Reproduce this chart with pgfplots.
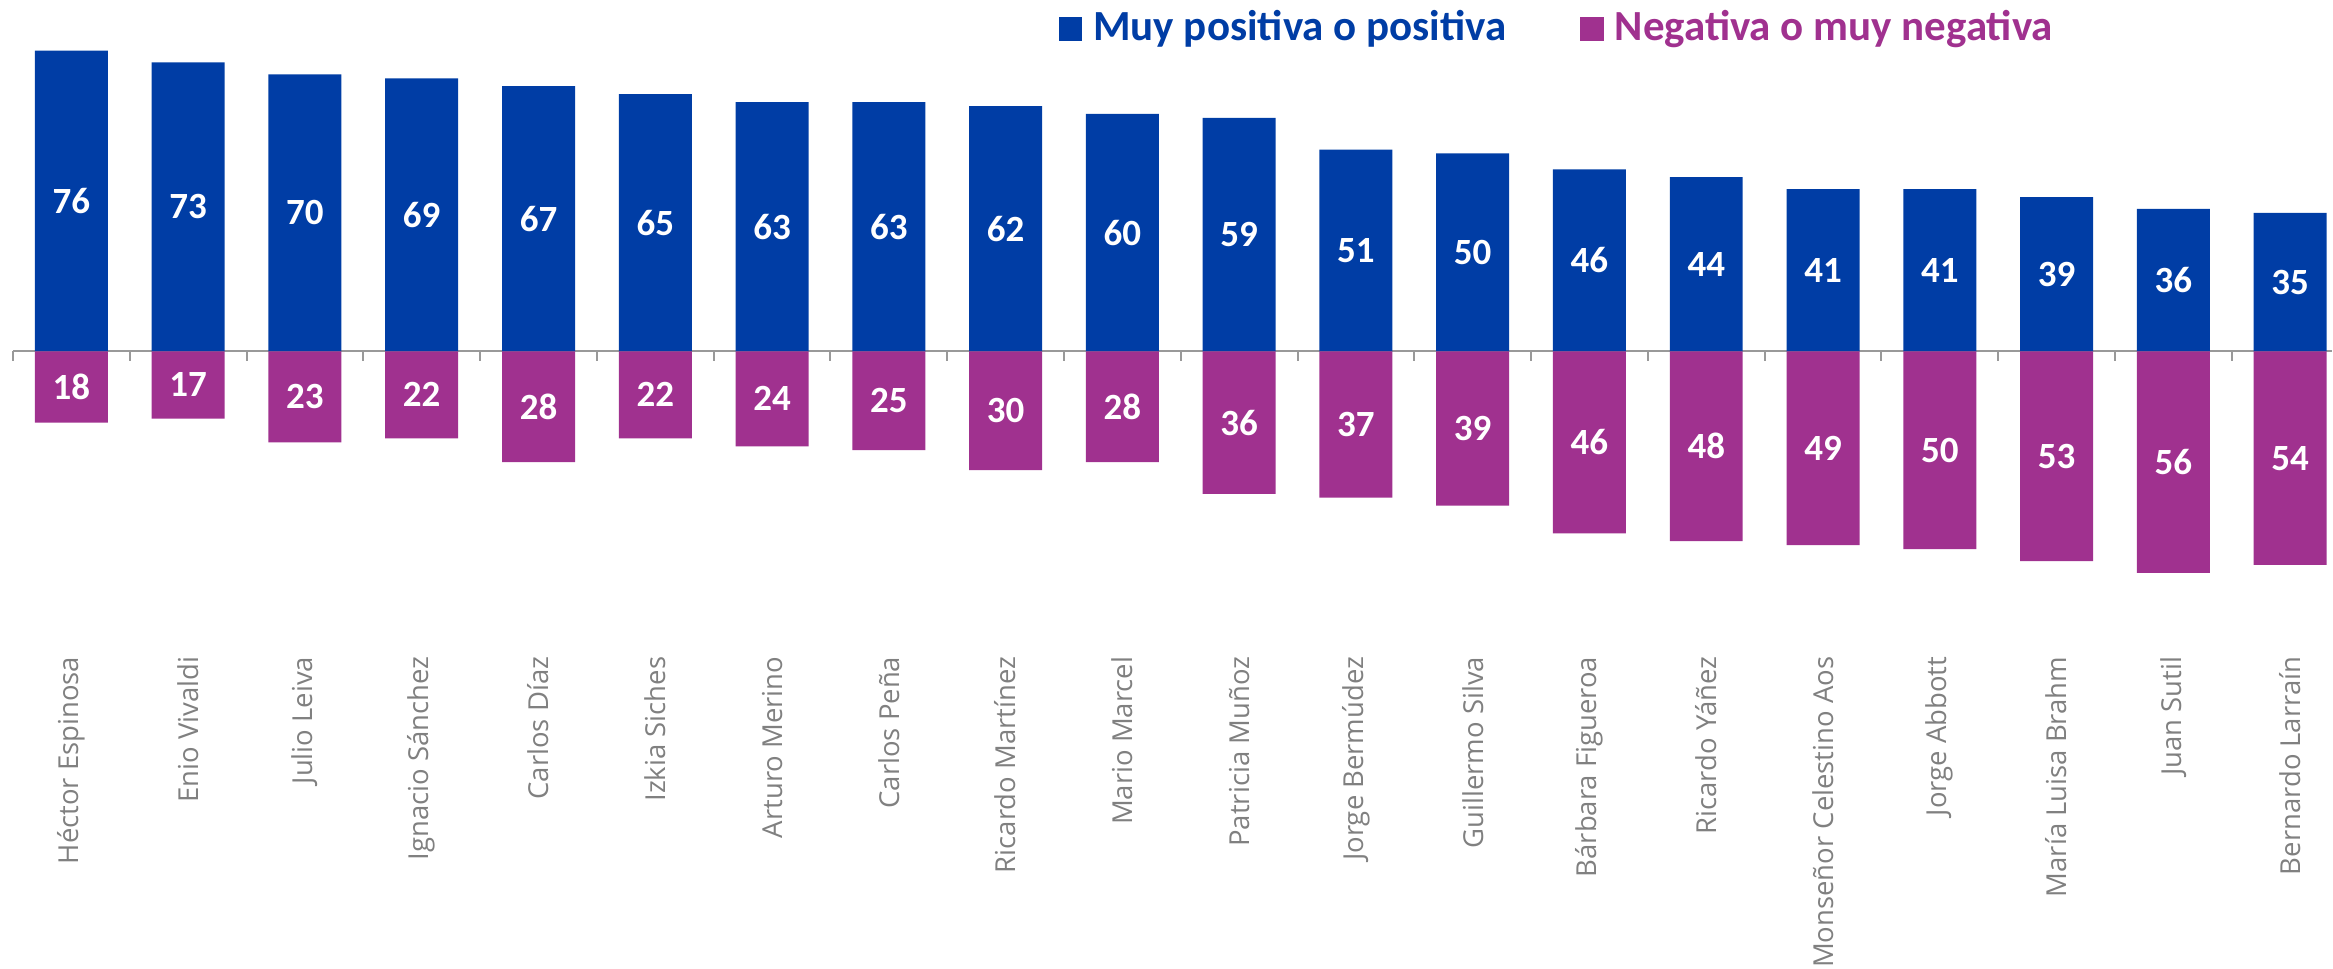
\documentclass[border=0pt]{standalone}
\usepackage{fontspec}
\setmainfont{Carlito}
\newfontfamily\opensans{Open Sans}
\usepackage{pgfplots}
\pgfplotsset{compat=1.18}
\usepackage{pgfplotstable}

\definecolor{posblue}{RGB}{0,61,165}
\definecolor{negpurple}{RGB}{160,49,143}
\definecolor{labgray}{RGB}{128,128,128}

% i = posicion, pos = muy positiva o positiva, neg = negativa o muy negativa
\pgfplotstableread{
i pos neg
0 76 18
1 73 17
2 70 23
3 69 22
4 67 28
5 65 22
6 63 24
7 63 25
8 62 30
9 60 28
10 59 36
11 51 37
12 50 39
13 46 46
14 44 48
15 41 49
16 41 50
17 39 53
18 36 56
19 35 54
}\datos

\begin{document}
\begin{tikzpicture}
\begin{axis}[
    scale only axis,
    width=699.9pt, height=290.7pt,
    xmin=-0.603, xmax=19.359,
    ymin=-155.9, ymax=88.8,
    axis x line=middle, axis y line=none,
    x axis line style={-, draw=labgray!80, line width=0.6pt, shorten <=3.6pt},
    xtick={0,...,19},
    xticklabels={Héctor Espinosa, Enio Vivaldi, Julio Leiva, Ignacio Sánchez,
        Carlos Díaz, Izkia Siches, Arturo Merino, Carlos Peña, Ricardo Martínez,
        Mario Marcel, Patricia Muñoz, Jorge Bermúdez, Guillermo Silva,
        Bárbara Figueroa, Ricardo Yáñez, Monseñor Celestino Aos, Jorge Abbott,
        María Luisa Brahm, Juan Sutil, Bernardo Larraín},
    minor xtick={-0.5,0.5,...,18.5},
    major tick length=0pt, minor tick length=2.8pt,
    tick align=outside,
    minor tick style={draw=labgray!80, line width=0.6pt},
    xticklabel style={yshift=-91.5pt, rotate=90, anchor=east, inner sep=0pt,
        font=\opensans\fontsize{8.25}{10}\selectfont, text=labgray},
    ytick=\empty,
    clip=false,
    /pgf/number format/assume math mode=true,
    nodes near coords,
    point meta=explicit,
    nodes near coords align=center,
    visualization depends on={y \as \lab},
    every node near coord/.append style={font=\bfseries\fontsize{11.1}{13}\selectfont,
        text=white, inner sep=0pt, anchor=center, yshift={-0.594pt*\lab}},
]
\addplot[ybar, bar width=0.625, bar shift=0pt, fill=posblue, draw=none]
    table[x=i, y=pos, meta=pos] {\datos};
\addplot[ybar, bar width=0.625, bar shift=0pt, fill=negpurple, draw=none]
    table[x=i, y expr=-\thisrow{neg}, meta=neg] {\datos};

% leyenda
\node[anchor=base west, inner sep=0pt, text=posblue,
    font=\bfseries\fontsize{12.9}{15}\selectfont] at (rel axis cs:0.4535,0.958)
    {\rule{7.05pt}{7.05pt}\hspace{3.3pt}Muy positiva o positiva};
\node[anchor=base west, inner sep=0pt, text=negpurple,
    font=\bfseries\fontsize{12.9}{15}\selectfont] at (rel axis cs:0.6772,0.958)
    {\rule{7.05pt}{7.05pt}\hspace{3.3pt}Negativa o muy negativa};
\path (rel axis cs:0,0) rectangle (rel axis cs:1,1);
\end{axis}
\end{tikzpicture}
\end{document}
